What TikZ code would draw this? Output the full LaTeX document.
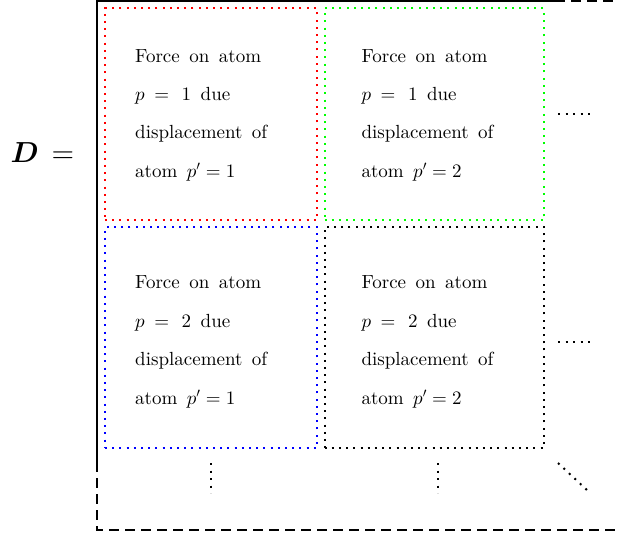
\documentclass[tikz,border=0pt]{standalone}
\usepackage{amsmath}
\usepackage[no-math]{fontspec}
\setmainfont{lmroman10-regular}[Extension=.otf, BoldFont=lmroman10-bold]
\usetikzlibrary{positioning}

% math at the 10pt design too, scaled freely
\DeclareFontShape{OT1}{cmr}{m}{n}{<-> cmr10}{}
\DeclareFontShape{OML}{cmm}{m}{it}{<-> cmmi10}{}
\DeclareFontShape{OML}{cmm}{b}{it}{<-> cmmib10}{}
\DeclareFontShape{OMS}{cmsy}{m}{n}{<-> cmsy10}{}

\newcommand{\gap}{\hspace{9.5pt}}

\begin{document}
\begin{tikzpicture}[x=1pt,y=-1pt]

\tikzset{
  block/.style={line width=2pt, dash pattern=on 2pt off 5.2pt, inner sep=0pt},
  txt/.style={align=left, inner sep=0pt, font=\fontsize{19}{38.4}\selectfont},
  frame/.style={line width=2pt},
  dots/.style={line width=2pt, dash pattern=on 2pt off 5.5pt}
}

\useasboundingbox (0,0) rectangle (618,535);

% matrix frame, open towards the bottom right
\coordinate (tl) at (97,1.5);
\coordinate (tr) at (555,1.5);
\coordinate (bl) at (97,462);
\draw[frame] (tr) -- (tl) -- (bl);
\draw[frame, dash pattern=on 9.5pt off 6.5pt] (tr) -- (618,1.5);
\draw[frame, dash pattern=on 9.5pt off 6.5pt] (bl) -- (97,530) -- (618,530);

\node[inner sep=0pt, font=\fontsize{29}{32}\selectfont] (D) at (42.5,152.5) {$\boldsymbol{D}\,=$};

% blocks
\node[block, draw=red, minimum width=212pt, minimum height=211.5pt] (11) at (211,114.25) {};
\node[block, draw=green, minimum width=219.5pt, minimum height=211.5pt] (12) at (434.25,114.25) {};
\node[block, draw=blue, minimum width=212pt, minimum height=220.5pt] (21) at (211,337.5) {};
\node[block, draw=black, minimum width=219.5pt, minimum height=220.5pt] (22) at (434.25,337.5) {};

\node[txt, below right=41.5pt and 31pt of 11.north west] (t11)
  {Force\gap on\gap atom\\ $p$\gap= \ 1\gap due\\ displacement\gap of\\ atom\gap $p'=1$};
\node[txt, below right=41.5pt and 37.8pt of 12.north west] (t12)
  {Force\gap on\gap atom\\ $p$\gap= \ 1\gap due\\ displacement\gap of\\ atom\gap $p'=2$};
\node[txt, below right=49.5pt and 31pt of 21.north west] (t21)
  {Force\gap on\gap atom\\ $p$\gap= \ 2\gap due\\ displacement\gap of\\ atom\gap $p'=1$};
\node[txt, below right=49.5pt and 37.8pt of 22.north west] (t22)
  {Force\gap on\gap atom\\ $p$\gap= \ 2\gap due\\ displacement\gap of\\ atom\gap $p'=2$};

% continuation dots
\draw[dots] (558,114.3) -- (590,114.3);
\draw[dots] (558,341.5) -- (590,341.5);
\draw[dots] (211,463) -- (211,493);
\draw[dots] (438,463) -- (438,493);
\draw[dots] (558,463) -- (588,491);

\end{tikzpicture}
\end{document}
